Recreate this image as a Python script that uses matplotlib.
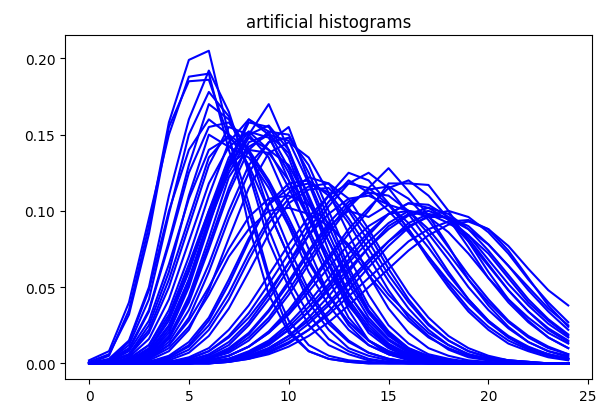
import numpy as np
import matplotlib
matplotlib.use("Agg")
import matplotlib.pyplot as plt

# bins 0..24, heights in thousandths
bins = list(range(25))

# early peaks (around 5-6)
early = [
    [0, 5, 35, 90, 158, 199, 205, 150, 90, 45, 20, 8, 3, 1, 0, 0, 0, 0, 0, 0, 0, 0, 0, 0, 0],
    [2, 8, 40, 95, 150, 188, 190, 140, 100, 55, 22, 8, 3, 1, 0, 0, 0, 0, 0, 0, 0, 0, 0, 0, 0],
    [1, 6, 32, 85, 155, 185, 186, 148, 105, 58, 28, 12, 5, 2, 1, 0, 0, 0, 0, 0, 0, 0, 0, 0, 0],
    [0, 3, 15, 50, 110, 160, 192, 165, 125, 80, 50, 25, 12, 6, 2, 1, 0, 0, 0, 0, 0, 0, 0, 0, 0],
    [0, 2, 10, 35, 80, 130, 170, 160, 140, 100, 70, 40, 22, 10, 5, 2, 1, 0, 0, 0, 0, 0, 0, 0, 0],
    [0, 1, 6, 25, 60, 110, 150, 142, 135, 115, 90, 60, 38, 22, 12, 6, 3, 1, 0, 0, 0, 0, 0, 0, 0],
    [0, 2, 12, 42, 98, 150, 178, 162, 128, 88, 55, 32, 16, 8, 3, 1, 0, 0, 0, 0, 0, 0, 0, 0, 0],
    [0, 2, 14, 48, 100, 140, 160, 150, 130, 100, 70, 45, 26, 14, 7, 3, 1, 0, 0, 0, 0, 0, 0, 0, 0],
    [0, 1, 9, 34, 78, 125, 155, 158, 140, 108, 76, 48, 28, 15, 7, 3, 1, 0, 0, 0, 0, 0, 0, 0, 0],
]

# peaks around 7-10
middle = [
    [0, 0, 2, 8, 25, 55, 95, 130, 150, 170, 140, 100, 65, 35, 15, 7, 3, 1, 0, 0, 0, 0, 0, 0, 0],
    [0, 0, 3, 12, 35, 70, 110, 145, 160, 150, 120, 85, 55, 30, 15, 6, 3, 1, 0, 0, 0, 0, 0, 0, 0],
    [0, 0, 1, 6, 20, 50, 90, 130, 158, 155, 135, 100, 65, 40, 22, 11, 5, 2, 1, 0, 0, 0, 0, 0, 0],
    [0, 0, 1, 4, 14, 35, 65, 100, 130, 145, 155, 120, 90, 60, 35, 20, 10, 4, 2, 1, 0, 0, 0, 0, 0],
    [0, 0, 2, 10, 30, 62, 100, 135, 152, 148, 125, 95, 65, 40, 20, 10, 4, 2, 1, 0, 0, 0, 0, 0, 0],
    [0, 0, 1, 5, 18, 42, 78, 115, 145, 150, 138, 110, 80, 52, 30, 16, 8, 3, 1, 0, 0, 0, 0, 0, 0],
    [0, 0, 3, 12, 32, 65, 100, 130, 140, 138, 120, 95, 70, 45, 28, 15, 7, 3, 1, 0, 0, 0, 0, 0, 0],
    [0, 1, 5, 20, 50, 90, 130, 155, 150, 135, 105, 75, 45, 25, 12, 6, 2, 1, 0, 0, 0, 0, 0, 0, 0],
    [0, 0, 1, 3, 12, 30, 60, 95, 125, 145, 148, 130, 100, 70, 45, 25, 13, 6, 3, 1, 0, 0, 0, 0, 0],
    [0, 0, 0, 2, 8, 22, 48, 82, 115, 138, 145, 135, 112, 85, 58, 36, 20, 10, 5, 2, 1, 0, 0, 0, 0],
    [0, 0, 2, 9, 28, 60, 98, 132, 160, 152, 128, 96, 66, 42, 24, 12, 6, 2, 1, 0, 0, 0, 0, 0, 0],
    [0, 0, 1, 6, 22, 52, 92, 128, 150, 156, 140, 108, 74, 46, 26, 13, 6, 2, 1, 0, 0, 0, 0, 0, 0],
    [0, 0, 1, 4, 16, 40, 75, 112, 140, 152, 150, 125, 95, 63, 38, 21, 10, 5, 2, 1, 0, 0, 0, 0, 0],
    [0, 0, 2, 7, 24, 55, 92, 125, 148, 140, 130, 105, 80, 55, 33, 18, 9, 4, 2, 1, 0, 0, 0, 0, 0],
    [0, 0, 1, 5, 17, 44, 82, 122, 142, 150, 146, 118, 85, 56, 34, 19, 9, 4, 2, 1, 0, 0, 0, 0, 0],
    [0, 1, 6, 22, 55, 95, 135, 150, 140, 120, 95, 68, 45, 27, 15, 8, 4, 2, 1, 0, 0, 0, 0, 0, 0],
    [0, 0, 4, 16, 42, 80, 118, 142, 152, 140, 115, 88, 60, 38, 22, 12, 6, 3, 1, 0, 0, 0, 0, 0, 0],
    [0, 1, 8, 28, 65, 108, 140, 148, 138, 118, 92, 66, 44, 27, 15, 8, 4, 2, 1, 0, 0, 0, 0, 0, 0],
]

# peaks around 10-12
center = [
    [0, 0, 0, 1, 4, 12, 28, 52, 80, 105, 118, 120, 110, 92, 70, 48, 30, 18, 9, 4, 2, 1, 0, 0, 0],
    [0, 0, 0, 0, 2, 7, 18, 36, 60, 85, 105, 114, 115, 102, 85, 62, 42, 26, 15, 8, 4, 2, 1, 0, 0],
    [0, 0, 1, 3, 10, 24, 45, 70, 88, 100, 102, 98, 90, 78, 62, 45, 32, 20, 12, 6, 3, 1, 0, 0, 0],
    [0, 0, 0, 1, 5, 14, 30, 55, 82, 104, 115, 118, 112, 95, 75, 54, 36, 22, 12, 6, 3, 1, 0, 0, 0],
    [0, 0, 0, 0, 3, 9, 22, 42, 68, 92, 108, 116, 118, 108, 88, 66, 46, 30, 18, 10, 5, 2, 1, 0, 0],
    [0, 0, 0, 1, 4, 11, 25, 46, 72, 95, 112, 122, 118, 100, 80, 58, 40, 25, 15, 8, 4, 2, 1, 0, 0],
    [0, 0, 1, 4, 12, 28, 50, 75, 96, 108, 110, 104, 92, 76, 58, 42, 28, 17, 10, 5, 2, 1, 0, 0, 0],
]

# peaks around 13-16
late = [
    [0, 0, 0, 0, 0, 1, 3, 7, 15, 28, 45, 65, 85, 102, 115, 128, 113, 97, 77, 55, 38, 24, 14, 8, 4],
    [0, 0, 0, 0, 1, 3, 8, 18, 33, 52, 72, 92, 110, 125, 120, 105, 88, 68, 50, 34, 22, 13, 8, 4, 2],
    [0, 0, 0, 0, 0, 2, 5, 12, 25, 42, 62, 84, 103, 118, 125, 115, 98, 80, 60, 42, 28, 17, 10, 6, 3],
    [0, 0, 0, 0, 0, 1, 2, 5, 11, 21, 35, 52, 70, 88, 102, 115, 120, 110, 95, 76, 56, 40, 27, 17, 10],
    [0, 0, 0, 0, 0, 0, 2, 5, 11, 20, 33, 50, 68, 85, 100, 118, 118, 117, 100, 80, 60, 42, 28, 17, 10],
    [0, 0, 0, 0, 1, 3, 8, 17, 30, 47, 66, 84, 98, 108, 110, 104, 92, 76, 58, 42, 28, 18, 11, 6, 3],
    [0, 0, 0, 0, 0, 1, 4, 10, 20, 35, 54, 74, 92, 106, 112, 110, 100, 85, 68, 50, 35, 23, 14, 8, 5],
    [0, 0, 0, 0, 1, 2, 6, 14, 27, 45, 66, 88, 106, 120, 112, 100, 86, 70, 54, 40, 27, 17, 10, 6, 3],
    [0, 0, 0, 0, 0, 1, 3, 8, 17, 30, 48, 68, 88, 104, 114, 116, 108, 94, 76, 58, 42, 28, 18, 11, 6],
    [0, 0, 0, 0, 0, 1, 3, 9, 19, 34, 52, 72, 90, 100, 96, 104, 100, 88, 72, 55, 40, 27, 17, 10, 6],
    [0, 0, 0, 0, 1, 4, 10, 22, 38, 58, 78, 96, 110, 118, 115, 104, 88, 70, 52, 36, 24, 15, 9, 5, 3],
]

# peaks around 16-19
tail = [
    [0, 0, 0, 0, 0, 0, 1, 2, 4, 8, 14, 22, 32, 44, 56, 68, 80, 88, 93, 94, 88, 77, 62, 48, 38],
    [0, 0, 0, 0, 0, 0, 1, 3, 7, 13, 22, 34, 48, 62, 76, 88, 97, 100, 95, 84, 68, 52, 38, 26, 17],
    [0, 0, 0, 0, 0, 0, 1, 2, 5, 10, 18, 28, 40, 54, 68, 80, 90, 96, 96, 90, 78, 64, 50, 36, 25],
    [0, 0, 0, 0, 0, 0, 0, 1, 3, 6, 11, 18, 27, 38, 50, 62, 74, 84, 91, 93, 88, 74, 56, 38, 24],
    [0, 0, 0, 0, 0, 1, 2, 5, 11, 20, 32, 47, 63, 78, 90, 98, 100, 96, 86, 72, 56, 42, 30, 20, 13],
    [0, 0, 0, 0, 0, 0, 1, 3, 8, 15, 26, 40, 56, 72, 86, 98, 105, 104, 96, 82, 65, 48, 34, 22, 14],
    [0, 0, 0, 0, 0, 0, 0, 2, 5, 10, 18, 30, 44, 60, 76, 90, 98, 102, 98, 88, 74, 58, 42, 29, 19],
    [0, 0, 0, 0, 0, 0, 1, 2, 6, 12, 22, 34, 50, 66, 80, 92, 100, 98, 92, 84, 72, 56, 40, 28, 18],
    [0, 0, 0, 0, 0, 0, 0, 1, 4, 9, 16, 26, 38, 52, 66, 80, 92, 98, 95, 88, 78, 64, 48, 34, 22],
    [0, 0, 0, 0, 0, 0, 1, 3, 7, 14, 24, 37, 52, 68, 84, 98, 105, 102, 94, 80, 64, 48, 34, 23, 15],
    [0, 0, 0, 0, 0, 0, 0, 1, 3, 7, 13, 22, 34, 48, 63, 77, 89, 97, 100, 96, 86, 72, 55, 40, 27],
]

fig = plt.figure(figsize=(5.97, 4.06), dpi=100)
ax = fig.add_axes([0.109, 0.064, 0.883, 0.847])

for group in (early, middle, center, late, tail):
    for h in group:
        ax.plot(bins, np.array(h) / 1000.0, color="b")

ax.set_title("artificial histograms")
fig.savefig("out.png", dpi=100)
